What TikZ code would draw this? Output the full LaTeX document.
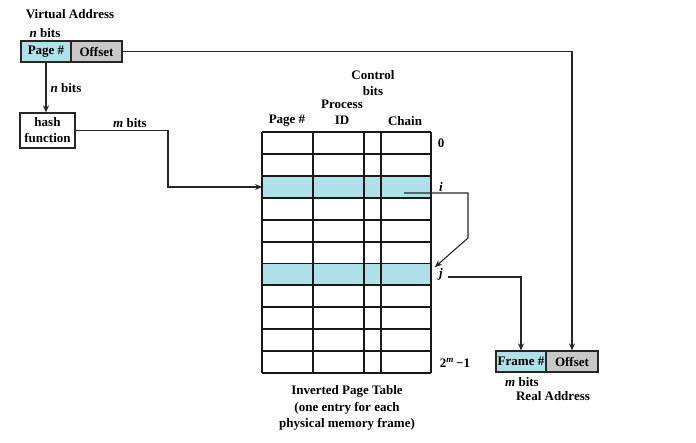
\documentclass[tikz,border=0pt]{standalone}
\usepackage{fontspec}
\setmainfont{Liberation Serif}
\usetikzlibrary{arrows.meta}
\definecolor{cellblue}{RGB}{176,224,234}
\definecolor{cellgray}{RGB}{200,200,200}
\begin{document}
\begin{tikzpicture}[x=1pt,y=-1pt,
  font=\fontsize{13}{15}\selectfont\bfseries,
  field/.style={draw=black!85,line width=1.2pt,minimum height=21pt,inner sep=0pt,anchor=center},
  lbl/.style={inner sep=0pt,anchor=center},
  arr/.style={draw=black!85,line width=1.1pt,-{Stealth[length=7pt,width=6pt]}},
  grid/.style={draw=black!90,line width=1.3pt}]
\useasboundingbox (0,0) rectangle (696,442);
% virtual address
\node[lbl] (va) at (70,14) {Virtual Address};
\node[lbl] (nb1) at (45,33) {\textit{n} bits};
\node[field,fill=cellblue,minimum width=50pt] (page) at (46,51.5) {Page \#};
\node[field,fill=cellgray,minimum width=51pt] (off) at (96.5,51.5) {Offset};
\node[lbl] (nb2) at (66,88) {\textit{n} bits};
\node[field,fill=white,minimum width=55pt,minimum height=35pt,align=center,font=\fontsize{13}{16}\selectfont\bfseries] (hash) at (47.5,130.5) {hash\\function};
\node[lbl] (mb1) at (130,123) {\textit{m} bits};
% table
\fill[cellblue] (262,176) rectangle (431,198);
\fill[cellblue] (262,263.5) rectangle (431,285);
\foreach \yy in {132,154,176,198,220,242,263.5,285,307,329,351,373}
  \draw[grid] (262,\yy) -- (431,\yy);
\foreach \xx in {262,313,364,381,431}
  \draw[grid] (\xx,132) -- (\xx,373);
\coordinate (rowi) at (262,187);
\node[lbl] (h1) at (287,121) {Page \#};
\node[lbl,align=center,font=\fontsize{13}{16.5}\selectfont\bfseries] (h2) at (342,112.5) {Process\\ID};
\node[lbl,align=center,font=\fontsize{13}{16.5}\selectfont\bfseries] (h3) at (373,83) {Control\\bits};
\node[lbl] (h4) at (405,121) {Chain};
\node[lbl] (r0) at (441,143) {0};
\node[lbl] (ri) at (441,187) {\textit{i}};
\node[lbl] (rj) at (441,274) {\textit{j}};
\node[lbl] (rm) at (455,363) {2\textsuperscript{\textit{m}}\,−1};
\node[lbl,align=center,font=\fontsize{13}{16.5}\selectfont\bfseries] (cap) at (347,408) {Inverted Page Table\\(one entry for each\\physical memory frame)};
% real address
\node[field,fill=cellblue,minimum width=50pt] (frame) at (521,361.5) {Frame \#};
\node[field,fill=cellgray,minimum width=52pt] (roff) at (572,361.5) {Offset};
\node[lbl] (mb2) at (522,382) {\textit{m} bits};
\node[lbl] (ra) at (553,396) {Real Address};
% connectors
\draw[arr] (off.east) -| (roff.north);
\draw[arr] (page.south) -- (page.south |- hash.north);
\coordinate (hc) at (168,187);
\draw[arr] (hash.east) -| (hc) -- (rowi);
\coordinate (c1) at (404,193);
\coordinate (c2) at (468,193);
\coordinate (c3) at (468,238);
\coordinate (c4) at (435,267);
\draw[arr] (c1) -- (c2) -- (c3) -- (c4);
\coordinate (jo) at (448,277);
\draw[arr] (jo) -| (frame.north);
\end{tikzpicture}
\end{document}
